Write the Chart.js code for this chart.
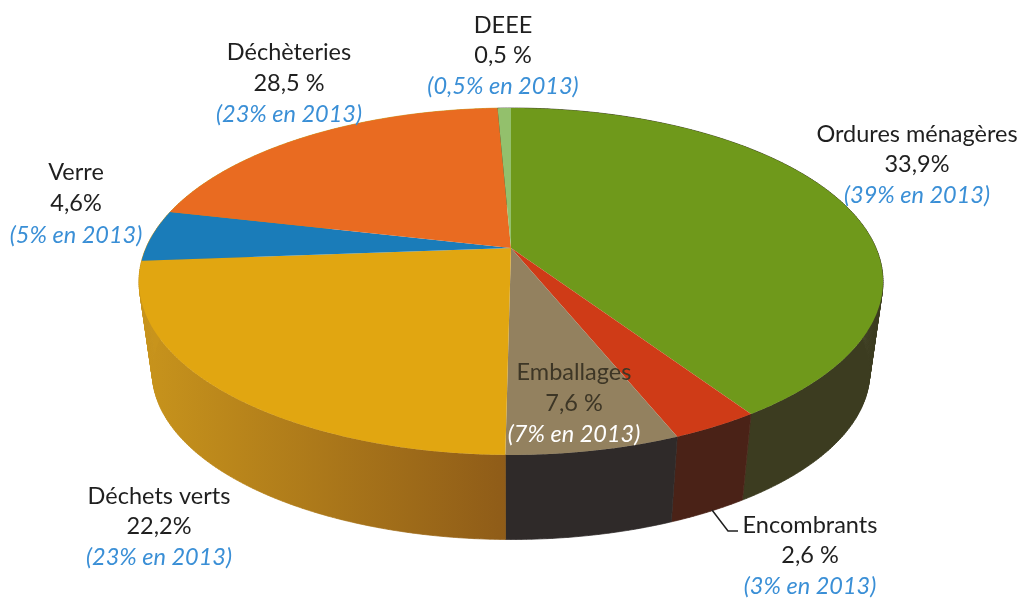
<!DOCTYPE html>
<html lang="fr"><head><meta charset="utf-8">
<style>html,body{margin:0;padding:0;background:#fff}canvas{display:block}</style>
<script src="https://cdn.jsdelivr.net/npm/chart.js@4"></script></head>
<body><canvas id="c" width="1021" height="598"></canvas>
<script>
const categories = ["Ordures ménagères","Encombrants","Emballages","Déchets verts","Verre","Déchèteries","DEEE"];
const shareLabels = ["33,9%","2,6 %","7,6 %","22,2%","4,6%","28,5 %","0,5 %"];
const priorLabels = ["(39% en 2013)","(3% en 2013)","(7% en 2013)","(23% en 2013)","(5% en 2013)","(23% en 2013)","(0,5% en 2013)"];
// Slice shares as drawn in the picture (the wedges, read from their boundaries)
const drawnShares = [40.7,3.2,6.3,23.6,4.8,20.7,0.7];
const topColors = ["#6f991b","#cf3b17","#93815f","#e1a611","#1a7cb9","#e96b21","#93c06c"];
const wallStart = ["#33331c","#4a2217","#2f2a29","#8f5c18","#c8941c","#c8941c","#33331c"];
const wallEnd   = ["#3c3c20","#4a2217","#2f2a29","#c8941c","#c8941c","#c8941c","#33331c"];

// Perspective projection of the unit disc on the page
const G = {cx:511, top:{ay:248,b:167,c:365,p:-0.193}, bot:{ay:340,b:161,c:352,p:-0.193}};
function proj(theta, f){
  const x=Math.sin(theta), y=-Math.cos(theta), d=1+f.p*y;
  return [G.cx+f.c*x/d, f.ay+f.b*y/d];
}

const ArcEl = Chart.registry.getElement('arc');
ArcEl.prototype.draw = function(ctx){
  const s=this.startAngle+Math.PI/2, e=this.endAngle+Math.PI/2;
  ctx.save();
  ctx.beginPath();
  ctx.moveTo(G.cx,G.top.ay);
  const n=Math.max(2,Math.ceil((e-s)/0.01));
  for(let i=0;i<=n;i++){const p=proj(s+(e-s)*i/n,G.top);ctx.lineTo(p[0],p[1]);}
  ctx.closePath();
  ctx.fillStyle=this.options.backgroundColor;
  ctx.fill();
  ctx.restore();
};

const wallPlugin={id:'wall',beforeDatasetsDraw(chart){
  const ctx=chart.ctx, arcs=chart.getDatasetMeta(0).data;
  ctx.save();
  arcs.forEach((a,k)=>{
    const s=a.startAngle+Math.PI/2, e=a.endAngle+Math.PI/2;
    const n=Math.max(2,Math.ceil((e-s)/0.012));
    const pa=proj(s,G.top), pb=proj(e,G.top);
    const g=ctx.createLinearGradient(pa[0],0,pb[0],0);
    g.addColorStop(0,wallStart[k]);g.addColorStop(1,wallEnd[k]);
    ctx.beginPath();
    for(let i=0;i<n;i++){
      const t0=s+(e-s)*i/n,t1=s+(e-s)*(i+1)/n;
      const p0=proj(t0,G.top),p1=proj(t1,G.top),q1=proj(t1,G.bot),q0=proj(t0,G.bot);
      ctx.moveTo(p0[0],p0[1]);ctx.lineTo(p1[0],p1[1]);ctx.lineTo(q1[0],q1[1]);ctx.lineTo(q0[0],q0[1]);ctx.closePath();
    }
    ctx.fillStyle=g;ctx.strokeStyle=g;ctx.lineWidth=0.7;
    ctx.fill();ctx.stroke();
  });
  ctx.restore();
}};

const labelBoxes=[
  {x:917,y:[134,164,195]},
  {x:810,y:[525,555,586]},
  {x:574,y:[372,403,434],dark:"#3d3626",prior:"#ffffff"},
  {x:159,y:[496,526,557]},
  {x:76, y:[172,203,235]},
  {x:289,y:[52,83,114]},
  {x:503,y:[25,55,86]}
];
const textPlugin={id:'texts',afterDraw(chart){
  const ctx=chart.ctx;
  ctx.save();
  ctx.textAlign='center';ctx.textBaseline='middle';
  categories.forEach((name,i)=>{
    const b=labelBoxes[i];
    ctx.font='23.5px Lato, "Noto Sans", sans-serif';
    ctx.fillStyle=b.dark||'#1f1f1f';
    ctx.fillText(name,b.x,b.y[0]);
    ctx.fillText(shareLabels[i],b.x,b.y[1]);
    ctx.font='italic 23.5px Lato, "Noto Sans", sans-serif';
    ctx.fillStyle=b.prior||'#3a8fd6';
    ctx.fillText(priorLabels[i],b.x,b.y[2]);
  });
  ctx.strokeStyle='#1f1f1f';ctx.lineWidth=1.5;
  ctx.beginPath();ctx.moveTo(712,510);ctx.lineTo(728,531);ctx.lineTo(738,531);ctx.stroke();
  ctx.restore();
}};

new Chart(document.getElementById('c'),{
  type:'pie',
  data:{labels:categories,datasets:[{data:drawnShares,backgroundColor:topColors,borderWidth:0,clip:false}]},
  options:{responsive:false,animation:false,events:[],
    plugins:{legend:{display:false},tooltip:{enabled:false}}},
  plugins:[wallPlugin,textPlugin]
});
</script></body></html>
